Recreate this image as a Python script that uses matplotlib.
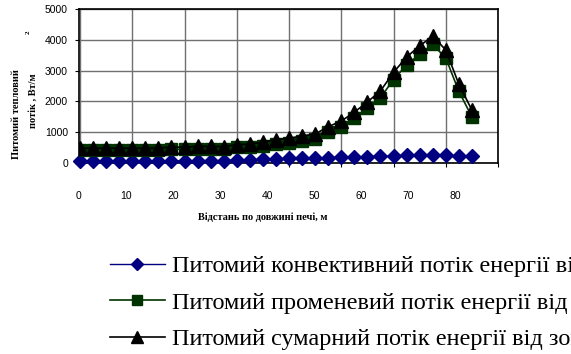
import matplotlib
matplotlib.use('Agg')
import matplotlib.pyplot as plt

# відстань по довжині печі, м
x = [0, 2.5, 5, 7.5, 10, 12.5, 15, 17.5, 20, 22.5, 25, 27.5, 30, 32.5, 35, 37.5,
     40, 42.5, 45, 47.5, 50, 52.5, 55, 57.5, 60, 62.5, 65, 67.5, 70, 72.5, 75]

conv = [50, 50, 50, 50, 50, 50, 50, 70, 70, 80, 80, 80, 90, 100, 120, 130,
        150, 150, 160, 170, 190, 200, 210, 220, 230, 260, 270, 270, 260, 230, 220]
rad = [430, 430, 430, 430, 430, 430, 430, 450, 440, 460, 460, 450, 510, 510, 560, 630,
       650, 730, 780, 1010, 1170, 1450, 1770, 2120, 2710, 3180, 3530, 3850, 3410, 2330, 1500]
total = [480, 480, 480, 480, 480, 480, 480, 520, 510, 540, 540, 530, 600, 610, 680, 760,
         800, 880, 940, 1180, 1360, 1650, 1980, 2340, 2940, 3440, 3800, 4120, 3670, 2560, 1720]

x_ticks = [0, 10, 20, 30, 40, 50, 60, 70, 80]
y_ticks = [0, 1000, 2000, 3000, 4000, 5000]

labels = ['Питомий конвективний потік енергії від зовнішнього теплоносія',
          'Питомий променевий потік енергії від зовнішнього теплоносія',
          'Питомий сумарний потік енергії від зовнішнього теплоносія']

fig = plt.figure(figsize=(5.71, 3.54), dpi=100)
ax = fig.add_axes([79 / 571, 1 - 163 / 354, (498 - 79) / 571, (163 - 9) / 354])

ax.plot(x, conv, color='#000080', marker='D', markersize=7.5, lw=1, label=labels[0], clip_on=False, zorder=3)
ax.plot(x, rad, color='#003300', marker='s', markersize=8.5, lw=1.2, label=labels[1], zorder=4)
ax.plot(x, total, color='black', marker='^', markersize=9.5, lw=1.2, label=labels[2], zorder=5)

ax.set_xlim(0, 80)
ax.set_ylim(0, 5000)
ax.set_xticks(x_ticks)
ax.set_xticklabels([])
# підписи осі X в Excel зсунуті відносно сітки
ax.set_xticks([v * 0.9 - 0.2 for v in x_ticks], minor=True)
ax.set_xticklabels([str(v) for v in x_ticks], minor=True)
ax.tick_params(axis='x', which='minor', length=0, pad=20, labelsize=7.5)
ax.tick_params(axis='x', which='major', length=3, direction='out', color='black')
ax.set_yticks(y_ticks)
ax.set_yticklabels([str(v) for v in y_ticks])
ax.tick_params(axis='y', length=3, pad=5, labelsize=7.5)
for lab in ax.get_xticklabels(minor=True) + ax.get_yticklabels():
    lab.set_fontfamily('Liberation Sans')

ax.grid(True, which='major', color='#707070', lw=1)
ax.set_axisbelow(True)
for s in ax.spines.values():
    s.set_color('black')
    s.set_linewidth(1.2)

serif_b = dict(family='Liberation Serif', weight='bold', fontsize=7.5)
fig.text(263 / 571, 1 - 217 / 354, 'Відстань по довжині печі, м', ha='center', va='center', **serif_b)
fig.text(17 / 571, 1 - 114 / 354, 'Питомий тепловий', rotation=90, ha='center', va='center', **serif_b)
fig.text(33 / 571, 1 - 101 / 354, 'потік , Вт/м', rotation=90, ha='center', va='center', **serif_b)
fig.text(28 / 571, 1 - 32 / 354, '2', rotation=90, ha='center', va='center', family='Liberation Serif', weight='bold', fontsize=5)

ax.legend(loc='upper left', bbox_to_anchor=(110 / 571, 1 - 255 / 354), bbox_transform=fig.transFigure,
          frameon=False, prop={'family': 'Liberation Serif', 'size': 17.5}, markerscale=0.85,
          handlelength=2.26, handletextpad=0.3, labelspacing=0.6, borderpad=0, borderaxespad=0)

plt.savefig('out.png', dpi=100)
